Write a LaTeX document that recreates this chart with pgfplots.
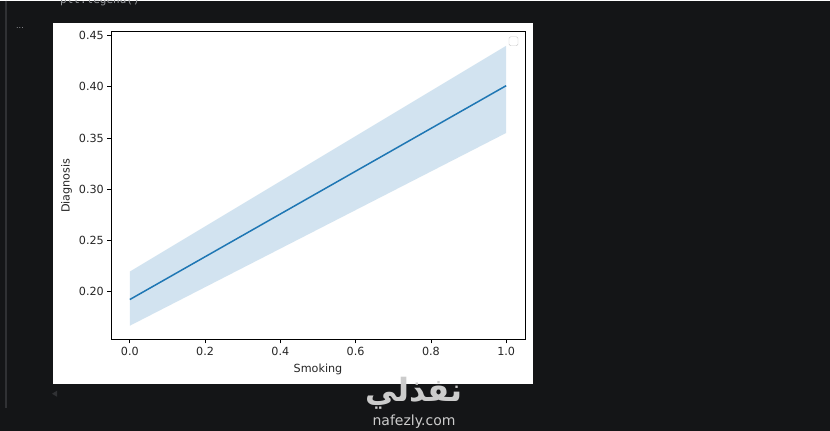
\documentclass[border=0pt]{standalone}
\usepackage{fontspec}
\setmainfont{DejaVu Sans}
\newfontfamily\monofont{DejaVu Sans Mono}
\newfontfamily\arabicfont[Script=Arabic]{DejaVu Sans}
\TeXXeTstate=1
\usepackage{pgfplots}
\pgfplotsset{compat=1.18}

\definecolor{bgdark}{RGB}{20,21,23}
\definecolor{gutter}{RGB}{48,49,52}
\definecolor{mplblue}{HTML}{1F77B4}
\definecolor{chrome}{RGB}{150,152,156}

\begin{document}
\begin{tikzpicture}
% notebook screenshot around the figure
\fill[bgdark] (0pt,0pt) rectangle (830pt,430pt);
\draw[gutter, line width=1.5pt] (6pt,430pt) -- (6pt,23pt);
\node[chrome, font=\fontsize{8}{9}\selectfont, inner sep=0pt] at (20pt,403pt) {...};
\fill[gutter] (52pt,37pt) -- (57pt,40pt) -- (57pt,34pt) -- cycle;
\fill[white] (53pt,47pt) rectangle (533pt,408pt);

\begin{axis}[
    at={(111pt,91pt)}, anchor=south west,
    scale only axis, width=414pt, height=308pt,
    xmin=-0.05, xmax=1.05,
    ymin=0.1529, ymax=0.4539,
    xtick={0,0.2,0.4,0.6,0.8,1.0},
    ytick={0.20,0.25,0.30,0.35,0.40,0.45},
    xticklabel style={/pgf/number format/fixed, /pgf/number format/fixed zerofill, /pgf/number format/precision=1},
    yticklabel style={/pgf/number format/fixed, /pgf/number format/fixed zerofill, /pgf/number format/precision=2},
    /pgf/number format/assume math mode=true,
    tick align=outside, major tick length=3.6pt,
    tick style={black, line width=0.8pt},
    xtick pos=bottom, ytick pos=left,
    axis line style={black, line width=0.8pt},
    ticklabel style={font=\fontsize{11.2}{13}\selectfont, text=black!85},
    label style={font=\fontsize{11.2}{13}\selectfont, text=black!85},
    xlabel style={at={(axis description cs:0.5,0)}, anchor=base, yshift=-32.5pt},
    ylabel style={at={(axis description cs:0,0.5)}, anchor=center, yshift=44.5pt},
    xlabel={Smoking},
    ylabel={Diagnosis},
]
    \addplot[fill=mplblue, fill opacity=0.2, draw=none] coordinates {(0,0.1666) (1,0.3550) (1,0.4402) (0,0.2195)} -- cycle;
    \addplot[mplblue, line width=1.5pt, mark=none] coordinates {(0,0.1922) (1,0.4012)};
\end{axis}
% empty legend frame left by plt.legend()
\draw[black!20, fill=white, rounded corners=1.5pt] (509pt,385pt) rectangle (518pt,394pt);

\node[overlay, chrome, font=\monofont\fontsize{11}{13}\selectfont, anchor=base west, inner sep=0pt] at (60pt,427pt) {plt.legend()};
% site watermark
\node[text=black!20!white, font=\arabicfont\bfseries\fontsize{32}{34}\selectfont, inner sep=0pt] at (414pt,37pt) {\beginR نفذلي\endR};
\node[text=black!20!white, font=\fontsize{14}{16}\selectfont, inner sep=0pt] at (414pt,9.5pt) {nafezly.com};
\useasboundingbox (0pt,0pt) rectangle (830pt,430pt);
\end{tikzpicture}
\end{document}
